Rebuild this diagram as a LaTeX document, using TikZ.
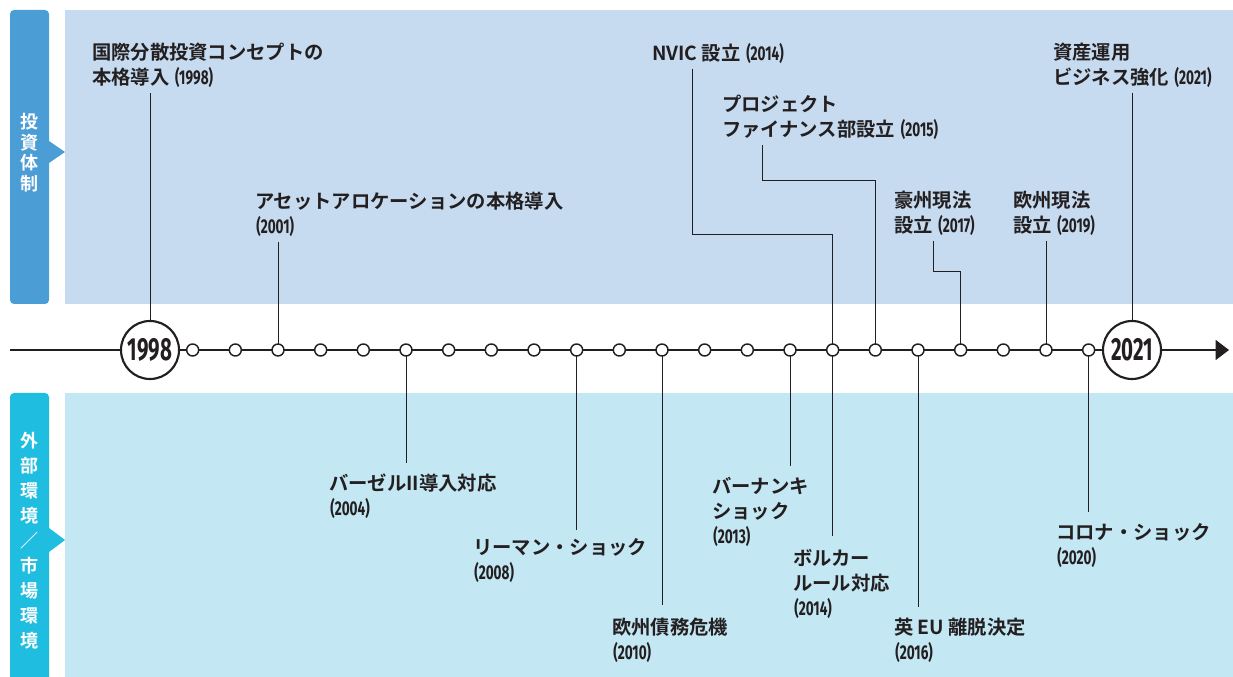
\documentclass[tikz,border=0pt]{standalone}
\usepackage{fontspec}
\setmainfont{Noto Sans CJK JP}[BoldFont={Noto Sans CJK JP Bold}]
\newfontfamily\yearfont{Fira Sans}[FakeStretch=0.68]
\newfontfamily\bigyearfont{Fira Sans}[FakeStretch=0.64]
\usetikzlibrary{arrows.meta,positioning,calc}

\definecolor{ink}{HTML}{231F20}
\definecolor{invband}{HTML}{C6DBF0}
\definecolor{invtab}{HTML}{4B9DD5}
\definecolor{extband}{HTML}{C3E7F3}
\definecolor{exttab}{HTML}{1FBEE0}

\newcommand{\yrtxt}[1]{\hspace{1pt}{\yearfont\bfseries\fontsize{15}{18.75}\selectfont #1}}

\begin{document}
\begin{tikzpicture}[
    x=0.75pt, y=-0.75pt,
    every node/.style={inner sep=0pt, outer sep=0pt},
    evt/.style={anchor=north west, align=left, text=ink,
      font=\bfseries\fontsize{14.5}{18.75}\selectfont},
    tabtext/.style={align=center, text=white,
      font=\bfseries\fontsize{13.5}{15.4}\selectfont},
    tick/.style={circle, draw=ink, fill=white, line width=1.1pt, minimum size=9pt},
    bigyear/.style={circle, draw=ink, fill=white, line width=1.6pt,
      minimum size=43.5pt, text=ink,
      font=\bigyearfont\bfseries\fontsize{24}{24}\selectfont},
    link/.style={draw=ink, line width=0.75pt},
    axis/.style={draw=ink, line width=0.9pt, -{Triangle[length=10pt, width=15pt]}},
  ]
    \useasboundingbox (0,0) rectangle (1233,677);

    % Bands
    \fill[invband] (65,10) rectangle (1233,304);
    \fill[extband] (65,393) rectangle (1233,677);
    \fill[invtab, rounded corners=3pt] (10,10) rectangle (49,304);
    \fill[invtab] (49,141) -- (65,152) -- (49,163) -- cycle;
    \fill[exttab, rounded corners=3pt] (10,393) rectangle (49,700);
    \fill[exttab] (49,528) -- (65,540) -- (49,552) -- cycle;
    \node[tabtext] (tabinv) at (30,152.5) {投\\資\\体\\制};
    \node[tabtext, font=\bfseries\fontsize{13.5}{18.75}\selectfont] (tabext) at (30,541)
      {外\\部\\環\\境\\／\\市\\場\\環\\境};

    % Timeline
    \coordinate (axstart) at (10,350);
    \coordinate (axend) at (1229,350);
    \draw[axis] (axstart) -- (axend);
    \node[bigyear] (y1998) at (150,350) {1998};
    \foreach \yy [count=\i] in {1999,...,2020}
      \node[tick] (y\yy) at ({150+\i*42.667},350) {};
    \node[bigyear] (y2021) at (1132,350) {2021};

    % Investment events
    \node[evt] (ev1998) at (92,43) {国際分散投資コンセプトの\\本格導入 \yrtxt{(1998)}};
    \node[evt] (ev2001) at (255,192) {アセットアロケーションの本格導入\\\yrtxt{(2001)}};
    \node[evt] (evnvic) at (652,43) {NVIC 設立 \yrtxt{(2014)}};
    \node[evt] (evpf) at (722,95) {プロジェクト\\ファイナンス部設立 \yrtxt{(2015)}};
    \node[evt] (evaus) at (894,191) {豪州現法\\設立 \yrtxt{(2017)}};
    \node[evt] (eveu) at (1013,191) {欧州現法\\設立 \yrtxt{(2019)}};
    \node[evt] (evam) at (1053,43) {資産運用\\ビジネス強化 \yrtxt{(2021)}};

    % Market events
    \node[evt] (evbasel) at (329,474) {バーゼルII導入対応\\\yrtxt{(2004)}};
    \node[evt] (evlehman) at (473,538) {リーマン・ショック\\\yrtxt{(2008)}};
    \node[evt] (eveuro) at (612,618) {欧州債務危機\\\yrtxt{(2010)}};
    \node[evt] (evbern) at (712,477) {バーナンキ\\ショック\\\yrtxt{(2013)}};
    \node[evt] (evvolck) at (793,549) {ボルカー\\ルール対応\\\yrtxt{(2014)}};
    \node[evt] (evbrexit) at (894,618) {英 EU 離脱決定\\\yrtxt{(2016)}};
    \node[evt] (evcovid) at (1056,523) {コロナ・ショック\\\yrtxt{(2020)}};

    % Bends
    \coordinate (nvicbend) at (692,235);
    \coordinate (pfbend) at (762,181);
    \coordinate (ausbend) at (933,272);

    % Links up
    \draw[link] ([yshift=-4pt]ev1998.south -| y1998) -- (y1998);
    \draw[link] ([yshift=-4pt]ev2001.south -| y2001) -- (y2001);
    \draw[link] ([yshift=-4pt]evnvic.south -| nvicbend) -- (nvicbend) -| (y2014);
    \draw[link] ([yshift=-4pt]evpf.south -| pfbend) -- (pfbend) -| (y2015);
    \draw[link] ([yshift=-4pt]evaus.south -| ausbend) -- (ausbend) -| (y2017);
    \draw[link] ([yshift=-4pt]eveu.south -| y2019) -- (y2019);
    \draw[link] ([yshift=-4pt]evam.south -| y2021) -- (y2021);

    % Links down
    \draw[link] (y2004) -- ([yshift=8pt]evbasel.north -| y2004);
    \draw[link] (y2008) -- ([yshift=6pt]evlehman.north -| y2008);
    \draw[link] (y2010) -- ([yshift=10pt]eveuro.north -| y2010);
    \draw[link] (y2013) -- ([yshift=8pt]evbern.north -| y2013);
    \draw[link] (y2014) -- ([yshift=10pt]evvolck.north -| y2014);
    \draw[link] (y2016) -- ([yshift=8pt]evbrexit.north -| y2016);
    \draw[link] (y2020) -- ([yshift=8pt]evcovid.north -| y2020);
  \end{tikzpicture}
\end{document}
